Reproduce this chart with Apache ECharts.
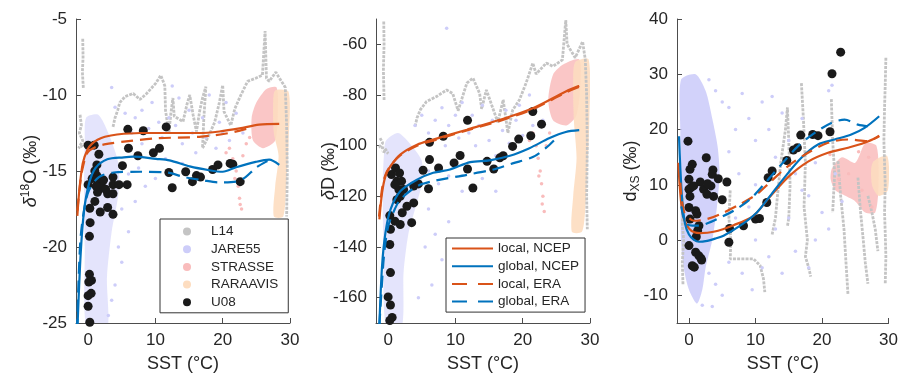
<!DOCTYPE html>
<html><head><meta charset="utf-8">
<script src="https://cdn.jsdelivr.net/npm/echarts@6/dist/echarts.min.js"></script>
<style>html,body{margin:0;padding:0;background:#fff}#c{width:901px;height:378px}</style>
</head><body><div id="c"></div><script>
// ---------- tick labels ----------
const sstTicks = [0, 10, 20, 30];
const d18oTicks = [-25, -20, -15, -10, -5];
const dDTicks = [-160, -140, -120, -100, -80, -60];
const dxsTicks = [-10, 0, 10, 20, 30, 40];

// ---------- U08 samples ----------
const u08_d18o = [[0.0,-13.3],[0.9,-13.3],[1.6,-13.9],[1.3,-14.6],[0.0,-15.9],[1.3,-15.3],[1.5,-15.7],[1.7,-16.1],[1.4,-16.4],[2.0,-16.0],[1.0,-17.0],[0.25,-17.45],[1.8,-17.7],[0.3,-18.4],[0.2,-19.3],[0.2,-21.8],[0.5,-22.2],[0.1,-22.3],[0.45,-23.05],[0.0,-23.2],[0.0,-23.9],[0.25,-24.95],[2.9,-16.5],[3.7,-16.5],[2.9,-17.4],[3.7,-17.85],[3.7,-15.4],[3.7,-15.9],[4.6,-15.9],[5.8,-15.9],[5.1,-14.65],[5.9,-12.26],[6.0,-13.5],[7.4,-14.0],[8.2,-12.35],[9.7,-13.8],[10.6,-13.5],[11.6,-12.1],[12.0,-15.1],[12.5,-16.1],[14.5,-15.05],[15.5,-15.7],[16.1,-15.3],[16.7,-15.4],[18.5,-14.9],[19.3,-14.6],[21.1,-14.5],[21.5,-14.55],[22.6,-15.7],[2.3,-15.6],[1.0,-15.0],[2.6,-16.2],[1.2,-16.0],[0.6,-15.5]];
const u08_dD = [[11.8,-90.0],[21.5,-86.5],[22.8,-91.5],[21.2,-96.1],[19.4,-97.4],[18.5,-100.3],[8.2,-96.3],[6.15,-98.7],[6.15,-105.5],[10.7,-103.9],[9.8,-106.8],[7.5,-108.8],[5.2,-109.7],[11.8,-109.2],[12.6,-116.7],[14.7,-106.2],[15.7,-109.2],[16.6,-104.8],[17.1,-104],[6.0,-117],[4.5,-115.1],[3.8,-115.9],[3.8,-122.6],[2.8,-123.9],[3.5,-130.4],[1.8,-131.1],[1.0,-129.8],[0.25,-127.6],[0.35,-133],[0.25,-139],[0.35,-150.1],[0,-159.7],[0.35,-162.9],[0.6,-167.8],[0.25,-169],[0.5,-111.4],[1.1,-108.8],[1.7,-110.8],[1.3,-114],[2.0,-114],[1.6,-117.3],[1.8,-120],[1.3,-121.3],[2.3,-117.3],[1.0,-115.4],[2.1,-126.5]];
const u08_dxs = [[-0.15,17.9],[2.6,14.9],[0.5,13.7],[0.15,12.8],[3.6,12.7],[3.5,11.9],[0,11.0],[1.7,10.5],[4.4,11.1],[5.7,10.5],[0,9.2],[0.3,9.5],[2.2,9.2],[3.3,9.8],[2.7,8.3],[3.7,7.9],[0.15,7.9],[5.0,7.3],[0,5.9],[1.0,5.3],[1.2,4.7],[0.15,3.8],[1.5,2.6],[1.3,1.7],[1.1,0.6],[0,-1.0],[6.0,-0.4],[1.0,-2.2],[1.5,-2.85],[1.8,-3.3],[0.5,-4.65],[0.8,-4.9],[6.1,2.1],[8.2,2.6],[10.0,3.8],[10.6,3.9],[11.7,6.8],[11.9,11.3],[12.5,12.5],[14.7,14.4],[15.7,16.3],[16.3,16.7],[16.8,19.0],[18.6,19.1],[19.4,18.9],[21.2,19.6],[21.5,30.1],[22.8,34.0],[0.7,9.8],[2.8,10.2],[1.9,-3.6]];

// ---------- model curves ----------
const d18o_localNCEP = [[-1.6,-17.95],[-1.3,-16.25],[-0.8,-14.5],[-0.1,-13.6],[0.6,-13.2],[1.4,-12.95],[2.5,-12.75],[4.3,-12.6],[7.8,-12.5],[11.6,-12.5],[16.5,-12.5],[19.5,-12.4],[22.5,-12.2],[25.4,-11.95],[28.4,-11.9]];
const d18o_localERA = [[-1.6,-17.6],[-1.3,-16.3],[-0.9,-15],[-0.1,-13.8],[1.0,-13.45],[2.4,-13.25],[5.3,-13.07],[10.2,-12.85],[16.5,-12.75],[21,-12.5],[23.7,-12.2]];
const d18o_globalNCEP = [[-1.6,-25.5],[-1.1,-20.4],[-0.6,-17.6],[0.15,-15.8],[1.1,-14.8],[2.85,-14.23],[5.3,-14.1],[6.7,-14.06],[10.1,-14.2],[12.1,-14.3],[15.1,-14.7],[18,-14.95],[20,-15.05],[22,-14.75],[24.9,-14.4],[26.9,-14.25],[28.4,-14.6]];
const d18o_globalERA = [[-1.65,-25.5],[-1.4,-22],[-1.1,-19.3],[-0.5,-17.3],[0.15,-16.25],[1.6,-15.4],[3.8,-15.1],[7.8,-15.05],[11.7,-15.1],[14.3,-15.4],[17,-15.6],[19.5,-15.75],[22,-15.7],[23.4,-15.4],[24.9,-14.8],[26.4,-14.4],[27.4,-14.2]];

const dD_localNCEP = [[-1.3,-129.1],[-0.9,-118.6],[-0.4,-112.1],[0.35,-108.1],[1.8,-103.5],[4.3,-99.6],[6.7,-97.6],[11.7,-93.7],[16.6,-89.8],[21.5,-85.2],[26.4,-78.6],[28.4,-76.4]];
const dD_localERA = [[-1.35,-128],[-0.9,-117],[-0.4,-111.5],[0.35,-108],[1.8,-103.8],[4.3,-100],[6.7,-98],[11.7,-94],[16.6,-90.2],[21.5,-85.6],[26.4,-79],[28.4,-76.8]];
const dD_globalNCEP = [[-1.3,-171],[-0.9,-147.5],[-0.4,-134.4],[0.35,-125.2],[1.8,-118],[4.3,-113.4],[6.7,-110.7],[9.2,-109.4],[12.2,-106.5],[15.1,-105.8],[18.1,-104],[21,-101],[24,-97],[26.4,-94.6],[28.4,-93.9]];
const dD_globalERA = [[-1.3,-171],[-1.0,-158],[-0.6,-143],[0,-132],[1,-125],[1.8,-121.3],[4.3,-116],[6.7,-114],[11.7,-111.5],[15.5,-109.5],[18.5,-107],[21.5,-104.5],[23.5,-100.8],[25,-97]];

const dxs_localNCEP = [[-1.6,14],[-1.4,10],[-1.1,6],[-0.7,3.6],[0,2.1],[0.8,1.4],[1.7,1.25],[3.7,1.5],[6.7,2.7],[9.7,4.4],[12,7.6],[14.9,11.4],[17.9,14.2],[20.9,15.8],[23.9,16.7],[26.4,17.6],[28.6,18.8]];
const dxs_localERA = [[-1.3,10.4],[-1.1,7.5],[-0.7,5],[0,4],[0.75,3.5],[2.7,3.8],[4.7,4.7],[7.7,6.5],[10.2,8.3],[12.3,10.6],[14.9,13.4],[17.9,15.8],[20.9,17.6],[23.9,18.2],[26.9,17.9],[28.6,18.9]];
const dxs_globalNCEP = [[-1.5,18.8],[-1.3,13],[-1.0,7],[-0.6,3],[0,1.0],[0.7,0.1],[1.5,-0.3],[2.5,-0.2],[4,0.3],[5.2,0.8],[7.7,2.6],[10.2,5.0],[12.2,8.0],[14.4,11.4],[16.9,14.9],[19.4,17.3],[21.9,18.2],[24.4,19.1],[26.4,20.3],[28.6,22.4]];
const dxs_globalERA = [[-1.15,6.1],[-0.8,4],[-0.3,2.9],[0.5,2.6],[1.5,2.6],[2.7,3.0],[4.2,3.8],[6.7,5.3],[9.2,7.4],[11.8,10.8],[13.9,13.7],[16.4,17.0],[18.9,19.4],[21.4,21.2],[23.4,21.8],[25.4,20.9],[26.9,20.6]];

// ---------- L14 ship-track traces ----------
const l14_d18o = [
  [[-0.8,-6.3],[-0.75,-7.5],[-0.85,-8.5],[-0.7,-9.6]],
  [[-1.2,-11.3],[-1.0,-12],[-1.3,-12.5],[-0.8,-13],[-1.4,-13.5],[-0.5,-13.2],[0,-13.8]],
  [[3.7,-12.1],[4.0,-11.5],[4.4,-11.0],[4.7,-10.5],[5.5,-10.1],[6.7,-9.9],[7.7,-10.3],[8.7,-9.9],[10.1,-9.2],[10.8,-8.7],[11.4,-9.4],[11.5,-11.0],[12.0,-12.5],[12.3,-11.2],[12.6,-10.2],[12.8,-11.4],[14.1,-11.75],[14.7,-10.6],[15.1,-10.0],[15.6,-11.3],[16.1,-12.4],[16.6,-11.0],[17.0,-10.2],[17.5,-9.45],[17.2,-11.5],[17.0,-13.5],[18,-12.6],[18.8,-11.8],[19.5,-10.5],[20.0,-9.35],[20.2,-11.1],[21.2,-12.0],[21.8,-10.9],[22.7,-10.0],[23.7,-9.1],[24.9,-8.9],[25.9,-8.7],[26.3,-5.8],[26.5,-8.9],[26.9,-9.1],[27.9,-8.5],[28.3,-8.8],[29.3,-9.5],[29.5,-12],[29.6,-15],[29.5,-18]]
];
const l14_dD = [
  [[-0.65,-51],[-0.6,-60],[-0.7,-70],[-0.6,-82]],
  [[-1.2,-97],[-0.8,-99],[-1.3,-100.5],[-0.5,-101],[0,-103],[-1.0,-102]],
  [[4.0,-92.4],[4.3,-89],[4.8,-85.8],[5.7,-82.6],[7.2,-80.6],[8.7,-78],[9.6,-79.4],[10.4,-86.2],[11.1,-80.3],[11.7,-75.3],[12.6,-73.3],[13.6,-79.4],[13.9,-85.5],[14.6,-78],[15.6,-85.5],[16.3,-90.8],[17.1,-81.9],[17.8,-95],[18.5,-86],[19.5,-82],[20.5,-75.3],[21.5,-67.4],[22,-71.7],[23.5,-67.4],[24.5,-68.7],[25.9,-66.1],[26.4,-50.4],[26.6,-60],[27.8,-65.3],[28.9,-58.9],[29.3,-66],[29.5,-80],[29.6,-100],[29.5,-120],[29.6,-133]]
];
const l14_dxs = [
  [[-0.9,-8],[-1.0,-4],[-0.8,0],[-1.0,3],[-0.9,8]],
  [[6.2,9],[6.0,4],[6.3,0],[6.2,-3.4],[7.7,-3.4],[9.7,-3.4],[10.7,-4.6],[11.2,-7],[11.4,-9.4]],
  [[12.5,1],[13,4],[13.3,8],[13.8,14],[14.5,20],[14.8,24],[15.0,18],[15.2,10],[15.0,4],[14.8,2.5]],
  [[16.9,28.4],[17.2,22],[17.5,14],[17.3,6],[17.8,0],[17.5,-3],[18.0,-5],[18.3,-6.6]],
  [[21.4,25.5],[21.6,18],[21.9,12],[21.6,5]],
  [[22.4,14.3],[22.8,8],[23.3,2],[23.6,-4],[23.9,-9.8]],
  [[25.4,11.3],[25.8,5],[26.2,0],[26.5,-4],[26.9,-7.9]],
  [[26.9,8],[27.5,5],[28.0,2],[28.4,-2]],
  [[29.6,33],[29.5,28],[29.4,24],[29.3,18],[29.5,10],[29.4,5],[29.5,1.4],[29.6,-3],[29.5,-8]]
];

// ---------- JARE55 (dense core outline + scattered samples) ----------
const jare_core_d18o = [[-0.3,-11.5],[1.5,-11.3],[3,-12.5],[4.5,-14.5],[4.5,-16.5],[3.5,-19],[2.8,-22],[2.8,-25.5],[-0.2,-25.5],[-0.5,-20],[-0.6,-16],[-0.5,-13]];
const jare_pts_d18o = [[4,-10.8],[5.5,-11.2],[6.5,-12.5],[7,-11.5],[8,-11],[9,-12.2],[9.5,-10.5],[10.5,-11.8],[11,-12.8],[12,-11.5],[13,-12],[13.5,-10.2],[14,-13.2],[15,-11],[15.5,-12.5],[16,-13.8],[17,-11.5],[17.5,-12.8],[18,-10],[19,-13.5],[19.5,-11.8],[20,-12.5],[20.5,-10.5],[21,-13],[22,-11.2],[23,-12.5],[6,-15.2],[7.5,-14.8],[8.5,-16],[10,-15.5],[11.5,-14.2],[14,-14.5],[5,-17.5],[6,-19],[5,-21],[4,-22.5],[7,-17],[3.5,-23.5],[4.5,-20],[8,-13.2],[3.5,-9.5],[12.5,-9.4],[3,-24.5]];
const jare_core_dD = [[-0.3,-98],[1.5,-95],[3.5,-100],[5,-106],[5,-115],[4,-125],[3,-135],[2.3,-150],[2,-172],[-0.3,-172],[-0.7,-140],[-0.8,-115],[-0.6,-103]];
const jare_pts_dD = [[4,-92],[5,-88],[6,-95],[7,-90],[8,-85],[8.5,-100],[9,-92],[10,-88],[10.5,-97],[11,-83],[12,-95],[12.5,-88],[13,-100],[13.5,-92],[14,-84],[15,-98],[15.5,-90],[16,-104],[17,-94],[17.5,-86],[18,-99],[19,-90],[19.5,-84],[20,-96],[21,-80],[21.5,-92],[22,-85],[23,-90],[6,-110],[7.5,-115],[9,-112],[11,-118],[14,-113],[16,-118],[6,-125],[7,-135],[5.5,-140],[8,-145],[6.5,-155],[4.5,-160],[9,-130],[8.7,-53.7]];
const jare_core_dxs = [[-1.2,29],[1,30],[2.5,27],[3.5,22],[4.3,17],[4.6,12],[4.2,6],[3.5,0],[2.5,-5],[2,-9],[1.2,-11.5],[0,-9],[-0.8,-5],[-1.2,0],[-1.3,10],[-1.3,20]];
const jare_pts_dxs = [[3,-6],[4,-8],[5,-10],[3.5,-12],[2,-11.8],[6,24],[7,20],[8,26.5],[9,22],[10,18],[11,25],[12,20],[13,15],[14,23],[15,18],[16,12],[17,22],[18,8],[19,14],[20,5],[21,27],[21.5,28],[22,12],[6,16],[7.5,12],[9,6],[10,0],[11,-5],[12,-3],[13,2],[14,-6],[15,4],[16,-2],[17,9],[6,-4],[8,-6],[7,4],[5,25],[10,10],[12.5,26],[19,0],[21,2],[23,7],[4,27],[3,29],[9.5,-9],[18,-5]];

// ---------- STRASSE ----------
const str_core_d18o = [[25,-10.5],[26.5,-9.6],[28,-9.5],[28.2,-11],[27.8,-13],[26,-13.5],[24.5,-13],[24.3,-11.5]];
const str_pts_d18o = [[21,-13.5],[21.5,-14.2],[22,-15],[22.3,-16],[22.5,-16.8],[22.8,-17.5],[21.8,-15.5],[23,-14],[23.5,-13.2],[20.5,-13.8],[24,-12.8],[22.6,-17.2]];
const str_core_dD = [[24.5,-72],[26,-68],[28.4,-66],[28.6,-75],[28,-88],[26.5,-92],[24.5,-90],[23.8,-82]];
const str_pts_dD = [[21.5,-95],[22,-100],[22.3,-105],[22.6,-110],[22.8,-115],[23,-120],[23.2,-126],[22.4,-112],[23.5,-100],[21,-98],[24,-95],[22.9,-123]];
const str_core_dxs = [[21.5,13],[23,15],[25,14],[26.5,17.5],[28.2,17],[28.5,10],[28,5],[26.5,5],[25,7],[23.5,8],[22,9],[21.3,11]];
const str_pts_dxs = [[21.2,15.5],[22.5,11],[24,12],[26,9],[27.5,6],[25.5,16],[27,15]];

// ---------- RARAAVIS ----------
const rar_core_d18o = [[27.8,-9.7],[29.8,-9.8],[29.8,-13],[29.5,-15.5],[29,-18],[27.6,-18],[27.8,-16],[28.3,-14],[27.6,-12.5],[27.5,-10.5]];
const rar_core_dD = [[27.8,-67],[29.8,-66],[29.9,-90],[29.6,-110],[29.3,-125],[28.8,-134],[27.3,-134],[27.5,-120],[28,-105],[27.6,-90],[27.5,-75]];
const rar_core_dxs = [[27.6,14],[29.8,15.2],[29.9,9],[28.5,8],[27.5,10]];

// ---------- styling ----------
const FONT = 'Liberation Sans, Arial, Helvetica, sans-serif';
const TXT = '#262626', AX = '#4d4d4d';
const C = {l14:'#c4c4c4', jare:'#cdcdf9', str:'#f9bcbc', rar:'#fdddc0', u08:'#1a1a1a', red:'#D95319', blue:'#0072BD'};
const grids = [
  {left:76, top:19, width:214, height:304},
  {left:376, top:19, width:214, height:304},
  {left:677, top:19, width:214, height:304}
];
const yCfg = [
  {min:-25, max:-5, ticks:d18oTicks, name:'{d|δ}{s|18}{n|O (‰)}', gap:35},
  {min:-170, max:-50, ticks:dDTicks, name:'{d|δ}{n|D (‰)}', gap:37},
  {min:-15, max:40, ticks:dxsTicks, name:'{n|d}{b|XS}{n| (‰)}', gap:36}
];
const panels = [
  {u08:u08_d18o, l14:l14_d18o, jc:jare_core_d18o, jp:jare_pts_d18o, sc:str_core_d18o, sp:str_pts_d18o, rc:rar_core_d18o, ln:d18o_localNCEP, gn:d18o_globalNCEP, le:d18o_localERA, ge:d18o_globalERA, jo:0.55},
  {u08:u08_dD, l14:l14_dD, jc:jare_core_dD, jp:jare_pts_dD, sc:str_core_dD, sp:str_pts_dD, rc:rar_core_dD, ln:dD_localNCEP, gn:dD_globalNCEP, le:dD_localERA, ge:dD_globalERA, jo:0.55},
  {u08:u08_dxs, l14:l14_dxs, jc:jare_core_dxs, jp:jare_pts_dxs, sc:str_core_dxs, sp:str_pts_dxs, rc:rar_core_dxs, ln:dxs_localNCEP, gn:dxs_globalNCEP, le:dxs_localERA, ge:dxs_globalERA, jo:0.9}
];

const xAxes = [], yAxes = [], series = [];
function poly(name, i, pts, color, op) {
  return {type:'custom', name, xAxisIndex:i, yAxisIndex:i, data:pts, clip:true, silent:true, z:1,
    itemStyle:{color},
    renderItem(params, api) {
      if (params.dataIndex !== 0) return null;
      return {type:'polygon', shape:{points:pts.map(p => api.coord(p)), smooth:0.25},
        style:{fill:color, opacity:op}};
    }};
}
function dots(name, i, pts, color, size, z) {
  return {type:'scatter', name, xAxisIndex:i, yAxisIndex:i, data:pts, symbolSize:size, z:z||2, silent:true,
    itemStyle:{color, opacity:1}};
}
function curve(name, i, pts, color, dashed) {
  return {type:'line', name, xAxisIndex:i, yAxisIndex:i, data:pts, showSymbol:false, symbol:'none',
    smooth:0.3, z:5, silent:true, clip:true, itemStyle:{color},
    lineStyle:{color, width:2.2, type: dashed ? [12, 7] : 'solid'}};
}

panels.forEach((p, i) => {
  xAxes.push({type:'value', gridIndex:i, min:-1.8, max:30,
    axisLine:{show:true, onZero:false, lineStyle:{color:AX, width:1}},
    axisTick:{show:true, inside:true, length:5, customValues:sstTicks, lineStyle:{color:AX}},
    axisLabel:{customValues:sstTicks, color:TXT, fontSize:17, fontFamily:FONT, margin:9},
    splitLine:{show:false},
    name:'SST (°C)', nameLocation:'middle', nameGap:32, nameMoveOverlap:false,
    nameTextStyle:{fontSize:18, color:TXT, fontFamily:FONT}});
  const y = yCfg[i];
  yAxes.push({type:'value', gridIndex:i, min:y.min, max:y.max,
    axisLine:{show:true, onZero:false, lineStyle:{color:AX, width:1}},
    axisTick:{show:true, inside:true, length:5, customValues:y.ticks, lineStyle:{color:AX}},
    axisLabel:{customValues:y.ticks, color:TXT, fontSize:17, fontFamily:FONT, margin:9},
    splitLine:{show:false},
    name:y.name, nameLocation:'middle', nameGap:y.gap, nameRotate:90, nameMoveOverlap:false,
    nameTextStyle:{color:TXT, fontFamily:FONT, rich:{
      d:{fontSize:18, fontStyle:'italic', fontFamily:FONT, color:TXT, lineHeight:20},
      n:{fontSize:18, fontFamily:FONT, color:TXT, lineHeight:20},
      s:{fontSize:12, fontFamily:FONT, color:TXT, lineHeight:12, padding:[0,0,10,0]},
      b:{fontSize:12, fontFamily:FONT, color:TXT, lineHeight:12, padding:[10,0,0,0]}
    }}});
  p.l14.forEach(seg => {
    series.push({type:'line', name:'L14', xAxisIndex:i, yAxisIndex:i, data:seg, showSymbol:false, symbol:'none',
      z:1, silent:true, itemStyle:{color:C.l14}, lineStyle:{color:C.l14, width:2.8, type:[3,1.2]}});
  });
  series.push(dots('JARE55', i, p.jp, C.jare, 3.5, 1));
  series.push(poly('JARE55', i, p.jc, C.jare, p.jo));
  series.push(dots('STRASSE', i, p.sp, C.str, 3.5, 1));
  series.push(poly('STRASSE', i, p.sc, C.str, 0.85));
  series.push(poly('RARAAVIS', i, p.rc, C.rar, 0.9));
  series.push(dots('U08', i, p.u08, C.u08, 9, 3));
  series.push(curve('local, NCEP', i, p.ln, C.red, false));
  series.push(curve('global, NCEP', i, p.gn, C.blue, false));
  series.push(curve('local, ERA', i, p.le, C.red, true));
  series.push(curve('global, ERA', i, p.ge, C.blue, true));
});

const legendBase = {orient:'vertical', backgroundColor:'#fff', borderColor:'#333', borderWidth:1,
  borderRadius:0, selectedMode:false, itemGap:2.7,
  textStyle:{fontSize:13.5, color:TXT, fontFamily:FONT, lineHeight:15}};
const option = {
  animation:false,
  grid: grids,
  xAxis: xAxes,
  yAxis: yAxes,
  legend: [
    Object.assign({}, legendBase, {left:160, top:219, itemWidth:38, itemHeight:8, padding:[5,10,3,23],
      data:['L14','JARE55','STRASSE','RARAAVIS','U08'].map(n => ({name:n, icon:'circle'}))}),
    Object.assign({}, legendBase, {left:446, top:238, itemWidth:41, itemHeight:1, padding:[3,6,3,5],
      itemStyle:{opacity:0, borderWidth:0},
      data:[
        {name:'local, NCEP'},
        {name:'global, NCEP'},
        {name:'local, ERA', lineStyle:{type:[15,11]}},
        {name:'global, ERA', lineStyle:{type:[15,11]}}
      ]})
  ],
  series
};
const chart = echarts.init(document.getElementById('c'), null, {renderer:'canvas'});
chart.setOption(option);
</script></body></html>
